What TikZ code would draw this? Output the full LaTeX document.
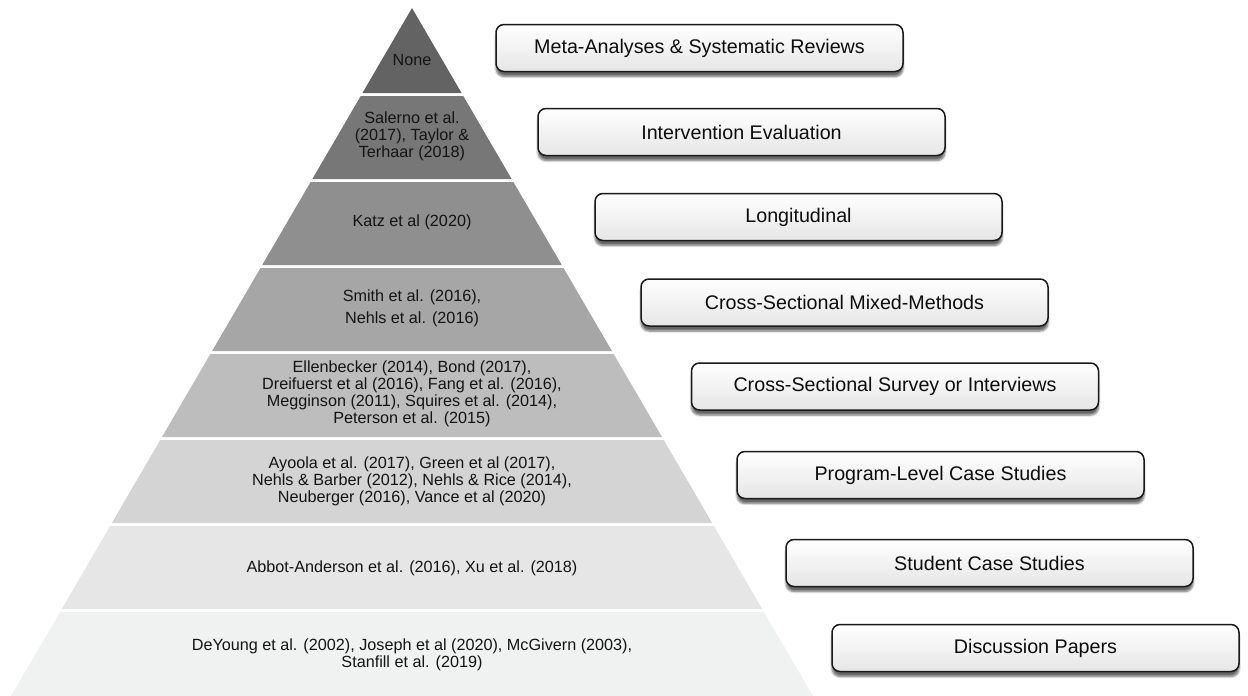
\documentclass[tikz,border=0pt]{standalone}
\usepackage{fontspec}
\setmainfont{Liberation Sans}
\usetikzlibrary{shadows.blur}

% grey ramp of the pyramid tiers, darkest at the apex
\definecolor{tierA}{HTML}{636363}
\definecolor{tierB}{HTML}{777777}
\definecolor{tierC}{HTML}{8F8F8F}
\definecolor{tierD}{HTML}{A6A6A6}
\definecolor{tierE}{HTML}{BDBDBD}
\definecolor{tierF}{HTML}{D4D4D4}
\definecolor{tierG}{HTML}{E6E6E6}
\definecolor{tierH}{HTML}{F0F1F1}

\begin{document}
\begin{tikzpicture}[x=1pt,y=-1pt,
  tiertext/.style={font=\fontsize{16.2}{17}\selectfont, text=black!92, align=center},
  rungbox/.style={draw=black!90, line width=1.5pt, rounded corners=8pt,
    top color=white, bottom color=black!10,
    minimum width=407pt, minimum height=47pt, inner sep=0pt,
    font=\fontsize{19.7}{23}\selectfont, text=black!95,
    blur shadow={shadow xshift=0pt, shadow yshift=-5pt,
      shadow blur steps=6, shadow opacity=60}},
]
\useasboundingbox (0,0) rectangle (1248,696);

% pyramid tiers: apex at (412,8), base at y=696
\foreach \yt/\yb/\c in {8/93/tierA, 96/179/tierB, 182/265/tierC, 268/351/tierD,
                        354/437/tierE, 440/523/tierF, 526/609/tierG, 612/696/tierH} {
  \pgfmathsetmacro\wt{0.5828*(\yt-8)}
  \pgfmathsetmacro\wb{0.5828*(\yb-8)}
  \fill[\c] (412-\wt,\yt) -- (412+\wt,\yt) -- (412+\wb,\yb) -- (412-\wb,\yb) -- cycle;
}

% tier contents
\node[tiertext] (t1) at (412,60) {None};
\node[tiertext] (t2) at (412,136) {Salerno et al.\\(2017), Taylor \&\\Terhaar (2018)};
\node[tiertext] (t3) at (412,222) {Katz et al (2020)};
\node[tiertext] (t4) at (412,308) {Smith et al. (2016),\\[5pt]Nehls et al. (2016)};
\node[tiertext] (t5) at (412,394) {Ellenbecker (2014), Bond (2017),\\Dreifuerst et al (2016), Fang et al. (2016),\\Megginson (2011), Squires et al. (2014),\\Peterson et al. (2015)};
\node[tiertext] (t6) at (412,481) {Ayoola et al. (2017), Green et al (2017),\\Nehls \& Barber (2012), Nehls \& Rice (2014),\\Neuberger (2016), Vance et al (2020)};
\node[tiertext] (t7) at (412,568) {Abbot-Anderson et al. (2016), Xu et al. (2018)};
\node[tiertext] (t8) at (412,655) {DeYoung et al. (2002), Joseph et al (2020), McGivern (2003),\\Stanfill et al. (2019)};

% study-design labels
\node[rungbox] (b1) at (699.5,48)    {Meta-Analyses \& Systematic Reviews};
\node[rungbox] (b2) at (741.5,132)   {Intervention Evaluation};
\node[rungbox] (b3) at (798.5,217)   {Longitudinal};
\node[rungbox] (b4) at (844.5,302.5) {Cross-Sectional Mixed-Methods};
\node[rungbox] (b5) at (895,386.5)   {Cross-Sectional Survey or Interviews};
\node[rungbox] (b6) at (940.5,475)   {Program-Level Case Studies};
\node[rungbox] (b7) at (989.5,563)   {Student Case Studies};
\node[rungbox] (b8) at (1035.5,648)  {Discussion Papers};
\end{tikzpicture}
\end{document}
